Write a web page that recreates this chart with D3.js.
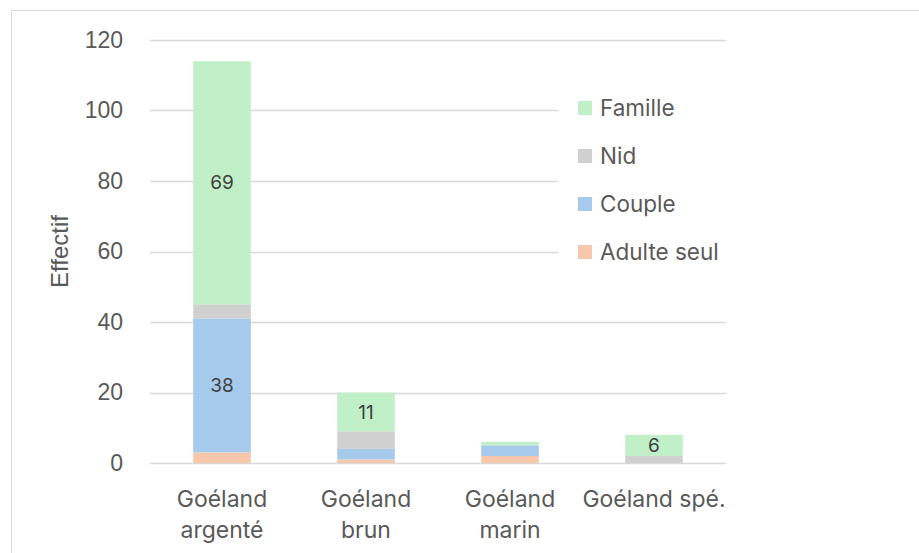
<!DOCTYPE html>
<html>
<head>
<meta charset="utf-8">
<script src="https://cdn.jsdelivr.net/npm/d3@7"></script>
<style>
  body { margin: 0; background: #fff; }
  text { fill: #595959; }
</style>
</head>
<body>
<script>
let categories = [["Goéland", "argenté"], ["Goéland", "brun"], ["Goéland", "marin"], ["Goéland spé."]];
let series = ["Adulte seul", "Couple", "Nid", "Famille"];
let adulteSeul = [3, 1, 2, 0];
let couple = [38, 3, 3, 0];
let nid = [4, 5, 0, 2];
let famille = [69, 11, 1, 6];
let yTicks = [0, 20, 40, 60, 80, 100, 120];
let colors = ["#f7c7ac", "#a6caec", "#d0d0d0", "#c1f0c8"];

let values = [adulteSeul, couple, nid, famille];
let width = 919, height = 553;
let margin = {top: 40, right: 193, bottom: 90, left: 150};

let svg = d3.select("body").append("svg")
    .attr("width", width)
    .attr("height", height);

// chart frame
svg.append("rect")
    .attr("x", 11.5).attr("y", 10.5)
    .attr("width", 920).attr("height", 560)
    .attr("fill", "none")
    .attr("stroke", "#d9d9d9");

let x = d3.scaleBand()
    .domain(d3.range(categories.length))
    .range([margin.left, width - margin.right])
    .paddingInner(0.6)
    .paddingOuter(0.3);

let y = d3.scaleLinear()
    .domain([0, 120])
    .range([height - margin.bottom, margin.top]);

// gridlines
svg.append("g")
    .selectAll("line")
    .data(yTicks)
    .join("line")
    .attr("x1", margin.left).attr("x2", width - margin.right)
    .attr("y1", d => Math.round(y(d)) + 0.5).attr("y2", d => Math.round(y(d)) + 0.5)
    .attr("stroke", "#d9d9d9")
    .attr("stroke-width", 1.3);

let yAxis = d3.axisLeft(y).tickValues(yTicks).tickSize(0).tickPadding(27);
svg.append("g")
    .attr("transform", "translate(" + margin.left + ",0)")
    .call(yAxis)
    .call(g => g.select(".domain").remove())
    .selectAll("text")
    .attr("fill", "#595959")
    .style("font-family", "Liberation Sans, Arial, sans-serif")
    .style("font-size", "23px");

svg.append("text")
    .attr("transform", "translate(60," + y(60) + ") rotate(-90)")
    .attr("text-anchor", "middle")
    .attr("dy", "0.35em")
    .style("font-family", "Liberation Sans, Arial, sans-serif")
    .style("font-size", "24px")
    .text("Effectif");

// stacked bars
let table = categories.map((c, i) => {
    let row = {i: i};
    series.forEach((s, j) => row[s] = values[j][i]);
    return row;
});
let stack = d3.stack().keys(series)(table);

let layers = svg.append("g")
    .selectAll("g")
    .data(stack)
    .join("g")
    .attr("fill", (d, j) => colors[j]);

layers.selectAll("rect")
    .data(d => d)
    .join("rect")
    .attr("x", d => x(d.data.i))
    .attr("width", x.bandwidth())
    .attr("y", d => y(d[1]))
    .attr("height", d => y(d[0]) - y(d[1]));

// data labels (only for segments of 6 or more)
layers.selectAll("text")
    .data(d => d.filter(p => p[1] - p[0] >= 6))
    .join("text")
    .attr("x", d => x(d.data.i) + x.bandwidth() / 2)
    .attr("y", d => y((d[0] + d[1]) / 2))
    .attr("dy", "0.35em")
    .attr("text-anchor", "middle")
    .style("fill", "#404040")
    .style("font-family", "Inter, Open Sans, sans-serif")
    .style("font-size", "19px")
    .text(d => d[1] - d[0]);

// category labels
let xl = svg.append("g")
    .selectAll("text")
    .data(categories)
    .join("text")
    .attr("x", (d, i) => x(i) + x.bandwidth() / 2)
    .attr("y", y(0) + 44)
    .attr("text-anchor", "middle")
    .style("font-family", "Inter, Open Sans, sans-serif")
    .style("font-size", "23px");
xl.selectAll("tspan")
    .data(d => d)
    .join("tspan")
    .attr("x", function () { return this.parentNode.getAttribute("x"); })
    .attr("dy", (d, k) => k === 0 ? 0 : 31)
    .text(d => d);

// legend, with a white box that hides the gridlines behind it
svg.append("rect")
    .attr("x", 558).attr("y", 84)
    .attr("width", width - margin.right - 558 + 2).attr("height", 192)
    .attr("fill", "#fff");

let legendOrder = ["Famille", "Nid", "Couple", "Adulte seul"];
let legend = svg.append("g")
    .selectAll("g")
    .data(legendOrder)
    .join("g")
    .attr("transform", (d, k) => "translate(578," + (108 + k * 48) + ")");
legend.append("rect")
    .attr("x", 0).attr("y", -7)
    .attr("width", 14).attr("height", 14)
    .attr("fill", d => colors[series.indexOf(d)]);
legend.append("text")
    .attr("x", 22)
    .attr("dy", "0.35em")
    .style("font-family", "Inter, Open Sans, sans-serif")
    .style("font-size", "22.5px")
    .text(d => d);
</script>
</body>
</html>
